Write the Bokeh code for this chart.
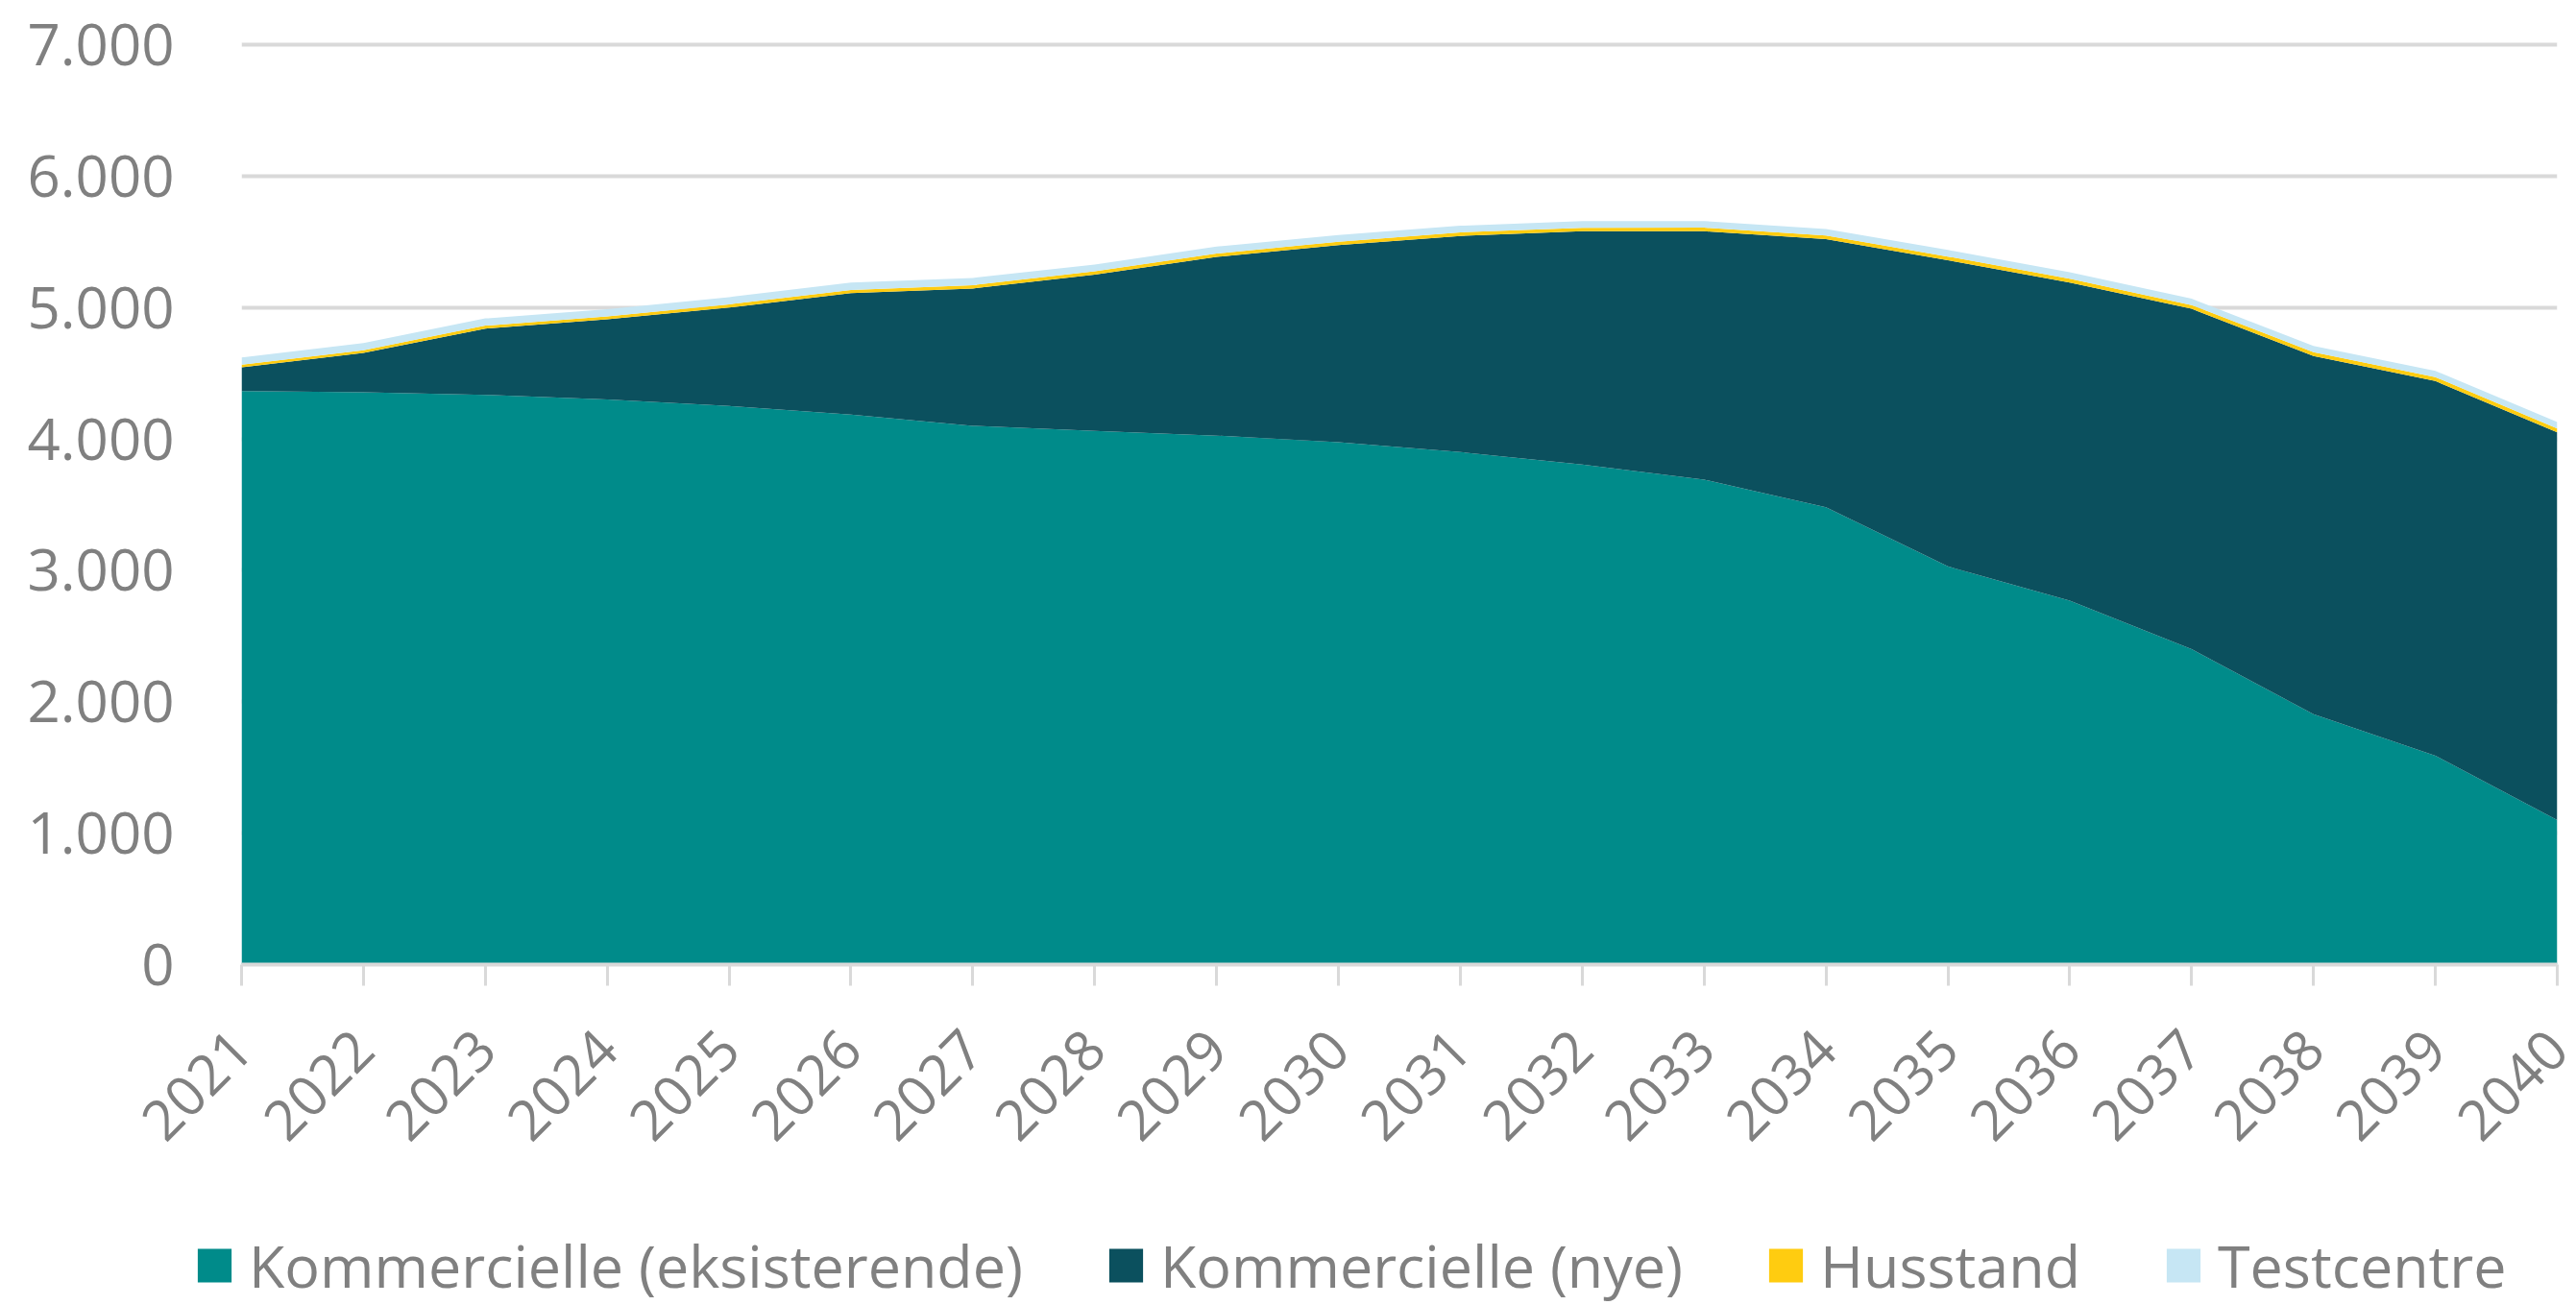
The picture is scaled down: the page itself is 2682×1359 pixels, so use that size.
import math
from bokeh.plotting import figure
from bokeh.layouts import column, row
from bokeh.models import ColumnDataSource, Range1d, FixedTicker, Legend, LegendItem
from bokeh.embed import file_html
from bokeh.resources import INLINE

years = list(range(2021, 2041))
eksisterende = [4365, 4355, 4335, 4300, 4250, 4185, 4100, 4060, 4025, 3975,
                3900, 3805, 3690, 3480, 3030, 2770, 2400, 1905, 1590, 1100]
nye = [180, 300, 505, 610, 750, 925, 1045, 1190, 1360, 1500,
       1645, 1775, 1890, 2040, 2330, 2420, 2590, 2725, 2850, 2950]
husstand = [20, 20, 22, 22, 24, 24, 25, 25, 26, 26,
            27, 27, 28, 28, 28, 29, 29, 30, 30, 30]
testcentre = [55, 55, 55, 55, 55, 55, 55, 52, 52, 50,
              50, 50, 50, 50, 50, 50, 48, 48, 48, 48]

series_names = ["Kommercielle (eksisterende)", "Kommercielle (nye)", "Husstand", "Testcentre"]
colors = ["#008b8a", "#0b505e", "#ffcc10", "#c6e6f4"]

y_ticks = [0, 1000, 2000, 3000, 4000, 5000, 6000, 7000]
y_tick_labels = ["0", "1.000", "2.000", "3.000", "4.000", "5.000", "6.000", "7.000"]

FONT = "Open Sans"
GRAY = "#808080"

source = ColumnDataSource(dict(year=years, eks=eksisterende, nye=nye,
                               hus=husstand, test=testcentre))

# ---------------- main chart ----------------
p = figure(width=2682, height=1275, output_backend="svg", toolbar_location=None,
           x_range=Range1d(2021, 2040), y_range=Range1d(0, 7044),
           min_border_left=251, min_border_right=20, min_border_top=40,
           min_border_bottom=271)
p.outline_line_color = None
p.background_fill_color = "white"

p.varea_stack(stackers=["eks", "nye", "hus", "test"], x="year",
              color=colors, source=source)

p.xgrid.grid_line_color = None
p.ygrid.ticker = FixedTicker(ticks=y_ticks)
p.ygrid.grid_line_color = "#d9d9d9"
p.ygrid.grid_line_width = 4

xa = p.xaxis[0]
xa.ticker = FixedTicker(ticks=years)
xa.major_label_overrides = {y: str(y) for y in years}
xa.major_label_orientation = math.pi / 4
xa.axis_line_color = "#d9d9d9"
xa.axis_line_width = 4
xa.major_tick_line_color = "#d9d9d9"
xa.major_tick_line_width = 3
xa.major_tick_in = 0
xa.major_tick_out = 22
xa.minor_tick_line_color = None
xa.major_label_standoff = 56
xa.major_label_text_font = FONT
xa.major_label_text_font_size = "58px"
xa.major_label_text_color = GRAY

ya = p.yaxis[0]
ya.ticker = FixedTicker(ticks=y_ticks)
ya.major_label_overrides = dict(zip(y_ticks, y_tick_labels))
ya.axis_line_color = None
ya.major_tick_line_color = None
ya.minor_tick_line_color = None
ya.major_tick_in = 0
ya.major_tick_out = 0
ya.major_label_standoff = 70
ya.major_label_text_font = FONT
ya.major_label_text_font_size = "60px"
ya.major_label_text_color = GRAY

# ---------------- legend strip ----------------
p2 = figure(width=2682, height=84, output_backend="svg", toolbar_location=None,
            x_range=Range1d(0, 1), y_range=Range1d(0, 1),
            x_axis_location=None, y_axis_location=None,
            min_border_left=201, min_border_right=0, min_border_top=0,
            min_border_bottom=0)
p2.outline_line_color = None
p2.grid.visible = False

# legend proxies (kept outside the visible range of the strip)
proxy = ColumnDataSource(dict(x=[5, 6], y1=[0, 0], y2=[1, 1]))
legend_renderers = [p2.varea(x="x", y1="y1", y2="y2", color=c, source=proxy) for c in colors]

legend = Legend(
    items=[LegendItem(label=n, renderers=[r]) for n, r in zip(series_names, legend_renderers)],
    orientation="horizontal", location="left",
    glyph_width=44, glyph_height=44, label_standoff=14, spacing=85,
    padding=0, margin=0, border_line_color=None, background_fill_alpha=0,
    label_text_font=FONT, label_text_font_size="61px", label_text_color=GRAY,
)
p2.add_layout(legend)

layout = column(p, row(p2), spacing=0)
open("out.html", "w").write(file_html(layout, INLINE))
